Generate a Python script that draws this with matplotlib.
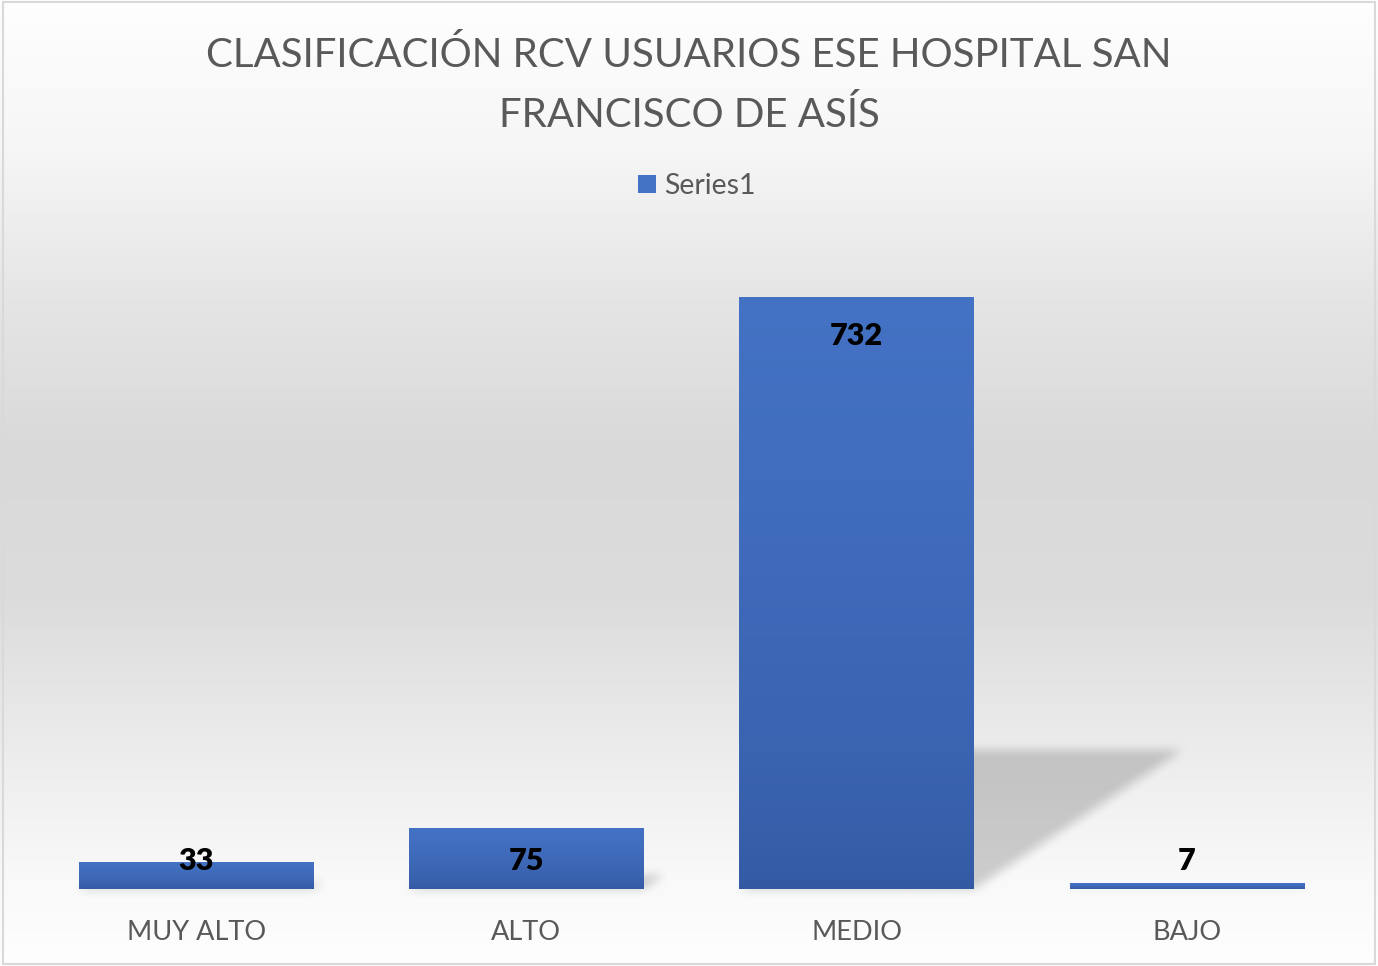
import numpy as np
import matplotlib
matplotlib.use('Agg')
import matplotlib.pyplot as plt
from matplotlib.path import Path
from matplotlib.patches import Rectangle

categories = ['MUY ALTO', 'ALTO', 'MEDIO', 'BAJO']
values = [33, 75, 732, 7]
series_name = 'Series1'
title = 'CLASIFICACIÓN RCV USUARIOS ESE HOSPITAL SAN\nFRANCISCO DE ASÍS'

FONT = 'Lato'
TXT = '#595959'
W, H = 1378, 966

fig = plt.figure(figsize=(W / 100, H / 100), dpi=100)

# background gradient (full figure)
bg = fig.add_axes([0, 0, 1, 1], zorder=0)
bg.set_axis_off()
ys = np.arange(H) + 0.5
from_top = H - ys
stops_px = [0, 150, 300, 450, 600, 750, 880, 966]
stops_val = [254, 246, 229, 217, 220, 236, 249, 254]
g = np.interp(from_top, stops_px, stops_val) / 255.0
gimg = np.repeat(g[:, None], 2, axis=1)
bg.imshow(np.dstack([gimg] * 3), extent=[0, W, 0, H], origin='lower',
          aspect='auto', interpolation='bilinear')
bg.set_xlim(0, W)
bg.set_ylim(0, H)

# main axes
ax = fig.add_axes([31 / W, 77 / H, (1352 - 31) / W, (889 - 242) / H], zorder=1)
ax.patch.set_alpha(0)
x = np.arange(len(categories))
bars = ax.bar(x, values, width=0.71, color='#4472C4', zorder=2, label=series_name)

top_c = np.array([68, 114, 196]) / 255.0
bot_c = np.array([51, 89, 162]) / 255.0
t = np.linspace(0, 1, 256)[:, None, None]
bar_grad = bot_c + (top_c - bot_c) * (t ** 0.6)
for b in bars:
    im = ax.imshow(bar_grad, extent=[b.get_x(), b.get_x() + b.get_width(), 0, b.get_height()],
                   origin='lower', aspect='auto', zorder=3, interpolation='bilinear')
    im.set_clip_path(b)

ax.set_xlim(-0.5, len(categories) - 0.5)
ax.set_ylim(0, 800)
for s in ax.spines.values():
    s.set_visible(False)
ax.set_yticks([])
ax.set_xticks(x, categories)
ax.tick_params(axis='x', length=0, pad=22, labelsize=19.5, labelcolor=TXT)
for lab in ax.get_xticklabels():
    lab.set_family(FONT)

# perspective shadows (computed from bar geometry)
mask = np.zeros((H, W), dtype=bool)
yy, xx = np.mgrid[0:H, 0:W]
pts = np.column_stack([xx.ravel() + 0.5, yy.ravel() + 0.5])
for b, v in zip(bars, values):
    x0, y0 = ax.transData.transform((b.get_x(), 0))
    x1, yt = ax.transData.transform((b.get_x() + b.get_width(), v))
    dy = 0.235 * (yt - y0)
    sx = 1.5 * dy
    poly = Path([(x0, y0), (x1, y0), (x1 + sx, y0 + dy), (x0 + sx, y0 + dy), (x0, y0)])
    mask |= poly.contains_points(pts).reshape(H, W)

def box_blur(a, r, axis):
    k = np.ones(2 * r + 1) / (2 * r + 1)
    return np.apply_along_axis(lambda m: np.convolve(m, k, mode='same'), axis, a)

blur = mask.astype(float)
for _ in range(2):
    blur = box_blur(blur, 5, 0)
    blur = box_blur(blur, 5, 1)
rgba = np.zeros((H, W, 4))
rgba[..., 3] = blur * 0.18
bg.imshow(rgba, extent=[0, W, 0, H], origin='lower', aspect='auto', zorder=1,
          interpolation='nearest')
bg.set_xlim(0, W)
bg.set_ylim(0, H)

# data labels
for xi, v in zip(x, values):
    center = max(v - 44.5, 38.3)
    ax.text(xi, center - 14.5, f'{v}', ha='center', va='baseline', fontsize=22,
            fontweight='heavy', family=FONT, color='black', zorder=5)

# legend
leg = ax.legend(loc='center', bbox_to_anchor=(697 / W, 1 - 186 / H),
                bbox_transform=fig.transFigure, frameon=False,
                prop={'family': FONT, 'size': 20.5}, handlelength=0.62,
                handleheight=0.62, handletextpad=0.3)
for txt in leg.get_texts():
    txt.set_color(TXT)

# title
fig.text(0.5, 1 - 85 / H, title, ha='center', va='center', fontsize=29,
         color=TXT, family=FONT, linespacing=1.68)

# border
fig.add_artist(Rectangle((0.002, 0.002), 0.996, 0.996, transform=fig.transFigure,
                         fill=False, edgecolor='#D9D9D9', linewidth=1.5, zorder=10))

fig.savefig('out.png', dpi=100)
